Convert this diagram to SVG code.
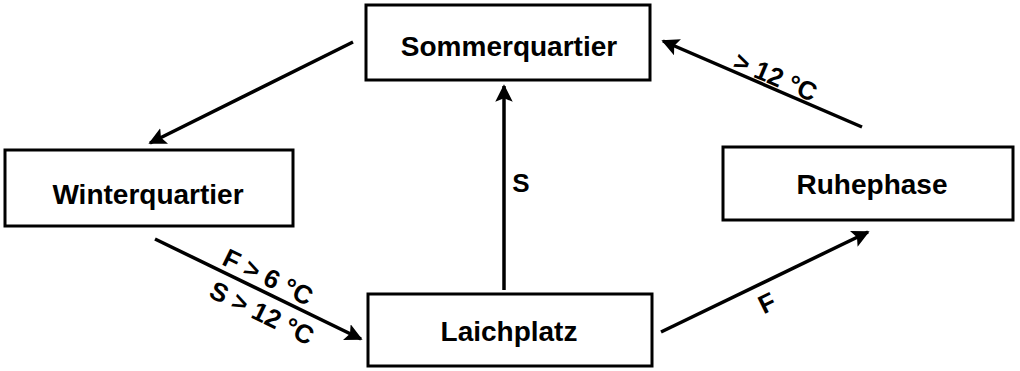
<svg xmlns="http://www.w3.org/2000/svg" width="1020" height="371" viewBox="0 0 1020 371">
<style>
.box{fill:#fff;stroke:#000;stroke-width:3}
.lbl{font-family:"Liberation Sans",Arial,sans-serif;font-weight:bold;font-size:28px;fill:#000;text-anchor:middle}
.edge{font-family:"Liberation Sans",Arial,sans-serif;font-weight:bold;font-size:26px;fill:#000;text-anchor:middle}
.con{stroke:#000;stroke-width:3.5;fill:none;marker-end:url(#ah)}
</style>
<defs>
<marker id="ah" viewBox="0 0 10 10" refX="9" refY="5" markerWidth="5" markerHeight="5" orient="auto" markerUnits="strokeWidth">
<path d="M0,0 L10,5 L0,10 L2,5 z" fill="#000"/>
</marker>
</defs>
<rect width="1020" height="371" fill="#fff"/>
<g id="connectors">
<line class="con" x1="353" y1="42" x2="150" y2="143"/>
<line class="con" x1="155" y1="239" x2="361" y2="339"/>
<line class="con" x1="504" y1="290" x2="504" y2="86"/>
<line class="con" x1="661" y1="332" x2="868" y2="232"/>
<line class="con" x1="862" y1="127" x2="663" y2="41"/>
<text class="edge" x="521" y="192">S</text>
<text class="edge" transform="translate(771,311) rotate(-26)">F</text>
<text class="edge" transform="translate(264,285) rotate(26)">F &gt; 6 °C</text>
<text class="edge" transform="translate(258,321) rotate(26)">S &gt; 12 °C</text>
<text class="edge" transform="translate(772,85) rotate(23)">&gt; 12 °C</text>
</g>
<g id="sommerquartier">
<rect class="box" x="366" y="5" width="284" height="75"/>
<text class="lbl" x="509" y="56">Sommerquartier</text>
</g>
<g id="winterquartier">
<rect class="box" x="5" y="150" width="288" height="76"/>
<text class="lbl" x="148" y="204">Winterquartier</text>
</g>
<g id="laichplatz">
<rect class="box" x="368" y="294" width="284" height="72"/>
<text class="lbl" x="509" y="341">Laichplatz</text>
</g>
<g id="ruhephase">
<rect class="box" x="723" y="147" width="290" height="73"/>
<text class="lbl" x="872" y="194">Ruhephase</text>
</g>
</svg>
